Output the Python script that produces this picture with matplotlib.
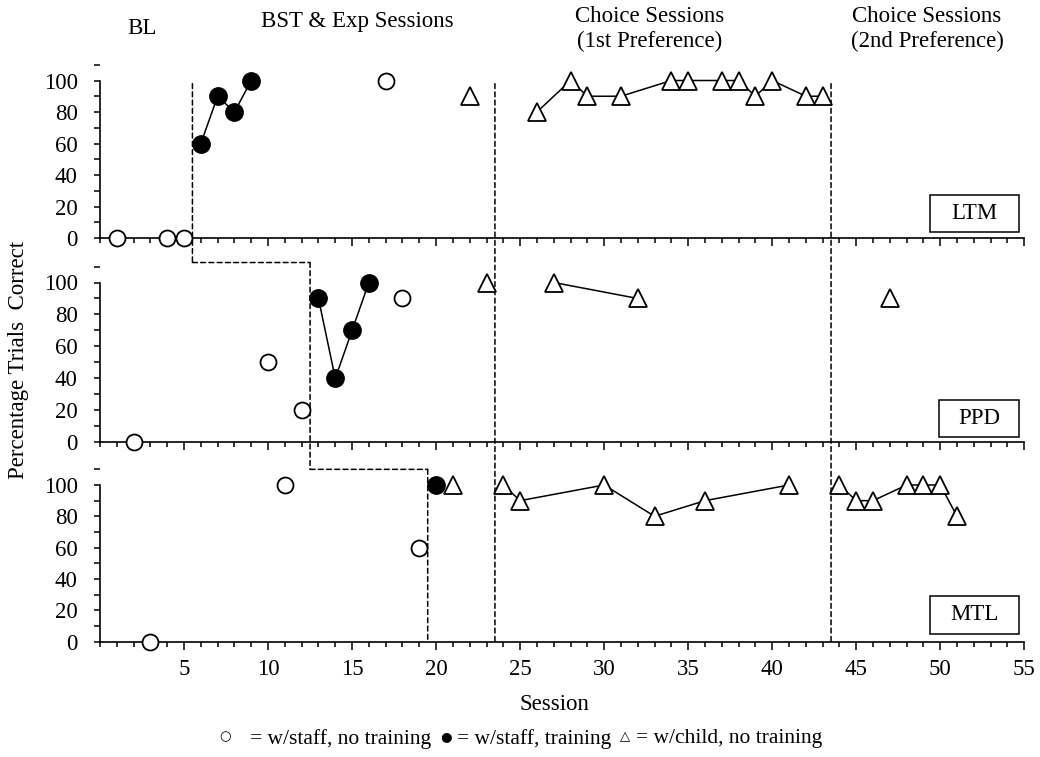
import matplotlib
matplotlib.use("Agg")
import matplotlib.pyplot as plt
from matplotlib.patches import ConnectionPatch, Rectangle
from matplotlib.ticker import MultipleLocator

plt.rcParams['font.family'] = ['Liberation Serif', 'DejaVu Serif', 'DejaVu Sans']
FS = 16.5

# ---------------- data ----------------
participants = ['LTM', 'PPD', 'MTL']

ltm_open_x = [1, 4, 5, 17]
ltm_open_y = [0, 0, 0, 100]
ltm_fill_x = [6, 7, 8, 9]
ltm_fill_y = [60, 90, 80, 100]
ltm_tri_segments = [([22], [90]),
                    ([26, 28, 29, 31, 34, 35, 37, 38, 39, 40, 42, 43],
                     [80, 100, 90, 90, 100, 100, 100, 100, 90, 100, 90, 90])]

ppd_open_x = [2, 10, 12, 18]
ppd_open_y = [0, 50, 20, 90]
ppd_fill_x = [13, 14, 15, 16]
ppd_fill_y = [90, 40, 70, 100]
ppd_tri_segments = [([23], [100]),
                    ([27, 32], [100, 90]),
                    ([47], [90])]

mtl_open_x = [3, 11, 19]
mtl_open_y = [0, 100, 60]
mtl_fill_x = [20]
mtl_fill_y = [100]
mtl_tri_segments = [([21], [100]),
                    ([24, 25, 30, 33, 36, 41], [100, 90, 100, 80, 90, 100]),
                    ([44, 45, 46, 48, 49, 50, 51], [100, 90, 90, 100, 100, 100, 80])]

bst_start = [5.5, 12.5, 19.5]        # staggered phase change per participant
choice_phase_lines = [23.5, 43.5]
x_ticks = [5, 10, 15, 20, 25, 30, 35, 40, 45, 50, 55]
y_ticks = [0, 20, 40, 60, 80, 100]

legend_items = [('○', '= w/staff, no training'),
                ('●', '= w/staff, training'),
                ('△', '= w/child, no training')]

panels = [
    (ltm_open_x, ltm_open_y, ltm_fill_x, ltm_fill_y, ltm_tri_segments),
    (ppd_open_x, ppd_open_y, ppd_fill_x, ppd_fill_y, ppd_tri_segments),
    (mtl_open_x, mtl_open_y, mtl_fill_x, mtl_fill_y, mtl_tri_segments),
]

# ---------------- layout ----------------
W, H = 1040, 757
fig = plt.figure(figsize=(W / 100, H / 100), dpi=100)

X0_PX, X55_PX = 100.0, 1024.3
panel_px = [(238.0, 80.5), (442.3, 282.5), (641.5, 485.0)]  # (y of 0, y of 100)
YLO, YHI = -4, 116

axes = []
for (y0, y100) in panel_px:
    s = (y0 - y100) / 100.0
    top = y100 - (YHI - 100) * s
    bot = y0 - YLO * s
    ax = fig.add_axes([X0_PX / W, 1 - bot / H, (X55_PX - X0_PX) / W, (bot - top) / H])
    ax.set_xlim(0, 55)
    ax.set_ylim(YLO, YHI)
    ax.patch.set_alpha(0)
    axes.append(ax)

boxes = [(49.4, 4, 5.3, 23), (49.9, 3.5, 4.8, 23), (49.4, 5, 5.3, 24)]

for i, (ax, (ox, oy, fx, fy, tris)) in enumerate(zip(axes, panels)):
    for side in ['top', 'right']:
        ax.spines[side].set_visible(False)
    ax.spines['left'].set_bounds(0, 100)
    ax.spines['bottom'].set_bounds(0, 55)
    ax.spines['bottom'].set_position(('data', 0))
    for side in ['left', 'bottom']:
        ax.spines[side].set_linewidth(1.2)
    ax.set_yticks(y_ticks)
    ax.yaxis.set_minor_locator(MultipleLocator(10))
    ax.set_xticks(x_ticks)
    ax.xaxis.set_minor_locator(MultipleLocator(1))
    ax.tick_params(axis='y', which='both', direction='out', length=4, width=1.1,
                   labelsize=FS, pad=12)
    ax.tick_params(axis='x', which='major', direction='out', length=5.5, width=1.1,
                   labelsize=FS, pad=7)
    ax.tick_params(axis='x', which='minor', direction='out', length=3.3, width=1.1)
    if i < 2:
        ax.tick_params(axis='x', which='major', labelbottom=False)

    mk = dict(clip_on=False, zorder=5)
    for xs, ys in tris:
        ax.plot(xs, ys, color='black', lw=1.1, marker='^', ms=12.5, mfc='white',
                mec='black', mew=1.3, **mk)
    ax.plot(ox, oy, ls='none', marker='o', ms=11.5, mfc='white', mec='black',
            mew=1.3, **mk)
    ax.plot(fx, fy, color='black', lw=1.1, marker='o', ms=12.5, mfc='black',
            mec='black', **mk)

    bx, by, bw, bh = boxes[i]
    ax.add_patch(Rectangle((bx, by), bw, bh, fc='white', ec='black', lw=1.1,
                           zorder=6, clip_on=False))
    ax.text(bx + bw / 2, by + bh / 2, participants[i], ha='center', va='center',
            fontsize=FS, zorder=7)

ax1, ax2, ax3 = axes
dash = dict(linestyle=(0, (3.2, 2.2)), linewidth=1.1, color='black', zorder=-1)

def seg(axA, pA, axB, pB):
    con = ConnectionPatch(xyA=pA, coordsA=axA.transData, xyB=pB, coordsB=axB.transData,
                          arrowstyle='-', shrinkA=0, shrinkB=0, **dash)
    fig.add_artist(con)

TOP = 98
seg(ax1, (bst_start[0], TOP), ax2, (bst_start[0], 112.5))
seg(ax2, (bst_start[0], 112.5), ax2, (bst_start[1], 112.5))
seg(ax2, (bst_start[1], 112.5), ax3, (bst_start[1], 110))
seg(ax3, (bst_start[1], 110), ax3, (bst_start[2], 110))
seg(ax3, (bst_start[2], 110), ax3, (bst_start[2], 0))
for xv in choice_phase_lines:
    seg(ax1, (xv, TOP), ax3, (xv, 0))

# ---------------- texts ----------------
def ft(xp, yp, s, **kw):
    return fig.text(xp / W, 1 - yp / H, s, **kw)

ft(142, 28, 'BL', ha='center', va='center', fontsize=FS)
ft(357, 21, 'BST & Exp Sessions', ha='center', va='center', fontsize=FS)
ft(650, 17, 'Choice Sessions', ha='center', va='center', fontsize=FS)
ft(650, 41, '(1st Preference)', ha='center', va='center', fontsize=FS)
ft(927, 17, 'Choice Sessions', ha='center', va='center', fontsize=FS)
ft(927, 41, '(2nd Preference)', ha='center', va='center', fontsize=FS)

ft(19, 360, 'Percentage Trials  Correct', ha='center', va='center', rotation=90,
   fontsize=FS)
ft(554, 705, 'Session', ha='center', va='center', fontsize=FS)

# legend line: laid out sequentially from measured text widths
ly = 739
LFS = 15.5
renderer = fig.canvas.get_renderer()
x = 219.0
gaps_after_symbol = [20, 5, 5]
for k, (sym, label) in enumerate(legend_items):
    st = ft(x, ly - 2, sym, ha='left', va='center', fontsize=9.5,
            family=['DejaVu Sans'])
    w = st.get_window_extent(renderer).width
    x += w + gaps_after_symbol[k]
    lt = ft(x, ly, label, ha='left', va='center', fontsize=LFS)
    w = lt.get_window_extent(renderer).width
    x += w + 9

fig.savefig('out.png', dpi=100)
